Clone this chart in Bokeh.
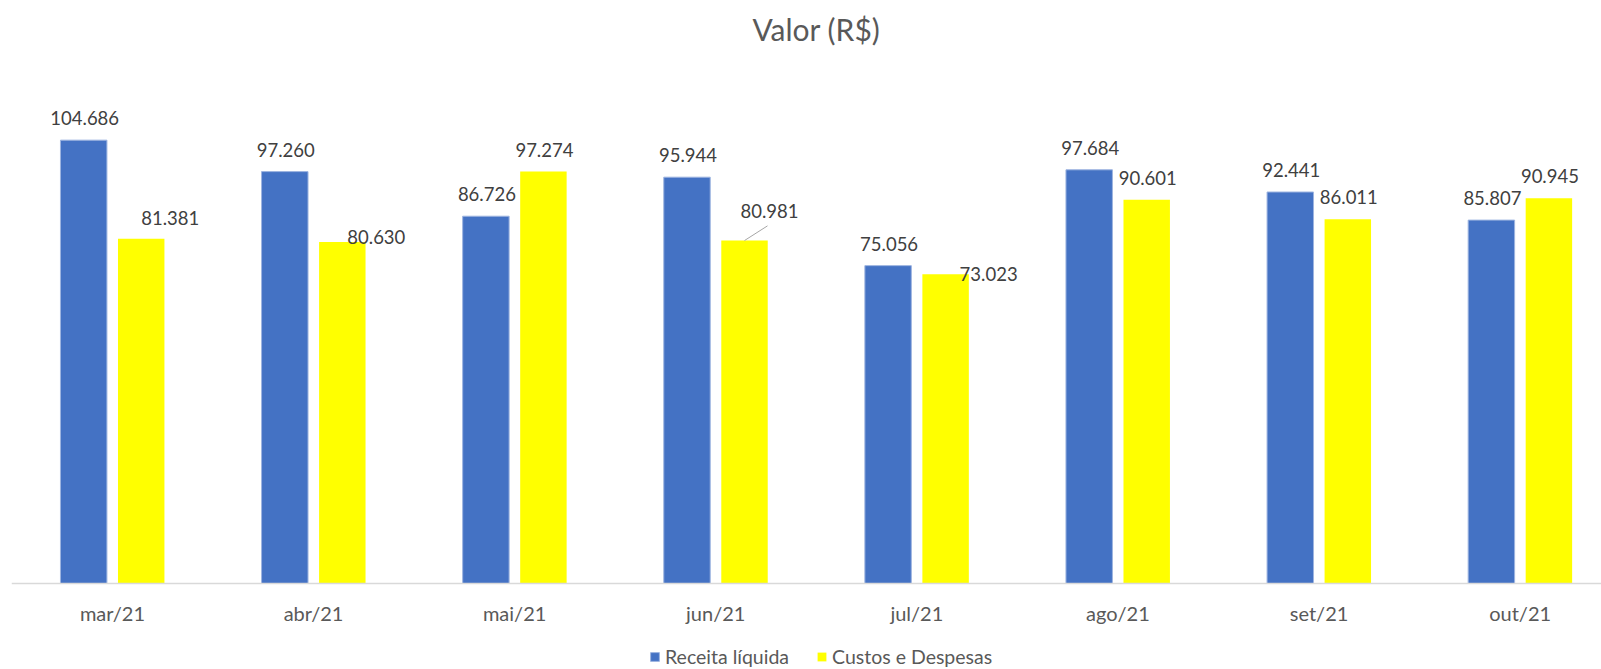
from bokeh.plotting import figure
from bokeh.models import ColumnDataSource, FixedTicker, Legend, LegendItem, Range1d
from bokeh.core.properties import value
from bokeh.embed import file_html
from bokeh.resources import INLINE

# ---- data ----
months = ["mar/21", "abr/21", "mai/21", "jun/21", "jul/21", "ago/21", "set/21", "out/21"]
receita = [104686, 97260, 86726, 95944, 75056, 97684, 92441, 85807]
custos = [81381, 80630, 97274, 80981, 73023, 90601, 86011, 90945]
series_names = ["Receita líquida", "Custos e Despesas"]

# ---- styling / layout ----
BLUE = "#4472C4"
YELLOW = "#FFFF00"
TXT = "#595959"
LBL = "#404040"
FONT = "Lato"
W, H = 1601, 669
MB_L, MB_R, MB_T, MB_B = 11, 0, 51, 0
BASE_FROM_BOTTOM = 86          # px between baseline (y=0) and bottom of figure
PX_PER_UNIT = 4.235 / 1000     # vertical px per R$
CAT_PX = 201.1                 # horizontal px per category
X0 = -0.502
DODGE = 0.143
BW = 0.231

frame_w = W - MB_L - MB_R
frame_h = H - MB_T - MB_B
X1 = X0 + frame_w / CAT_PX
Y0 = -BASE_FROM_BOTTOM / PX_PER_UNIT
Y1 = Y0 + frame_h / PX_PER_UNIT
PX_X = CAT_PX
PX_Y = PX_PER_UNIT

def fmt(v):
    return f"{v:,}".replace(",", ".")

idx = list(range(len(months)))

p = figure(width=W, height=H, output_backend="svg", toolbar_location=None,
           x_range=Range1d(X0, X1), y_range=Range1d(Y0, Y1),
           y_axis_location=None, min_border_left=MB_L, min_border_right=MB_R,
           min_border_top=MB_T, min_border_bottom=MB_B)
p.outline_line_color = None
p.xgrid.visible = False
p.ygrid.visible = False
p.background_fill_color = "white"
p.border_fill_color = "white"

src_b = ColumnDataSource(dict(x=[i - DODGE for i in idx], top=receita))
src_y = ColumnDataSource(dict(x=[i + DODGE for i in idx], top=custos))
rb = p.vbar(x="x", top="top", bottom=0, width=BW, source=src_b, fill_color=BLUE,
            line_color="#9DB4E0", line_width=1)
ry = p.vbar(x="x", top="top", bottom=0, width=BW, source=src_y, fill_color=YELLOW,
            line_color=None)

# data labels: centred ~22px above bar top; some yellow labels are displaced
dx_b = [1] * len(idx)
dy_b = [-22] * len(idx)
dx_y = [29, 34, 1, 25, 43, 1, 1, 1]
dy_y = [-21, -5, -22, -30, 0, -22, -22, -22]

lab_b = ColumnDataSource(dict(x=[i - DODGE for i in idx], y=receita,
                              t=[fmt(v) for v in receita], dx=dx_b, dy=dy_b))
lab_y = ColumnDataSource(dict(x=[i + DODGE for i in idx], y=custos,
                              t=[fmt(v) for v in custos], dx=dx_y, dy=dy_y))
for s in (lab_b, lab_y):
    p.text(x="x", y="y", text="t", x_offset="dx", y_offset="dy", source=s,
           text_align="center", text_baseline="middle",
           text_font=value(FONT), text_font_size="18.5px", text_color=LBL)

# leader line for jun/21 yellow label
j = 3
lx0 = j + DODGE
ly0 = custos[j]
p.segment(x0=[lx0], y0=[ly0], x1=[lx0 + 23 / PX_X], y1=[ly0 + 14.7 / PX_Y],
          line_color="#A6A6A6", line_width=1)

# x axis, drawn at y = 0
ax = p.xaxis[0]
ax.fixed_location = 0
ax.ticker = FixedTicker(ticks=idx)
ax.major_label_overrides = {i: m for i, m in zip(idx, months)}
ax.major_tick_out = 0
ax.major_tick_in = 0
ax.minor_tick_out = 0
ax.minor_tick_in = 0
ax.axis_line_color = "#D9D9D9"
ax.axis_line_width = 1.5
ax.major_label_standoff = 17
ax.major_label_text_font = FONT
ax.major_label_text_font_size = "20px"
ax.major_label_text_color = TXT

# title
p.title.text = "Valor (R$)"
p.title.align = "left"
p.title.offset = 741
p.title.standoff = 10
p.title.text_font = FONT
p.title.text_font_size = "30px"
p.title.text_font_style = "normal"
p.title.text_color = TXT

# legend
legend = Legend(items=[LegendItem(label=series_names[0], renderers=[rb]),
                       LegendItem(label=series_names[1], renderers=[ry])],
                orientation="horizontal", location=(638, 1),
                glyph_width=11, glyph_height=11, label_standoff=5, spacing=27,
                padding=0, margin=0, border_line_color=None,
                background_fill_alpha=0,
                label_text_font=FONT, label_text_font_size="19.5px",
                label_text_color=TXT)
p.add_layout(legend, "center")

open("out.html", "w").write(file_html(p, INLINE))
